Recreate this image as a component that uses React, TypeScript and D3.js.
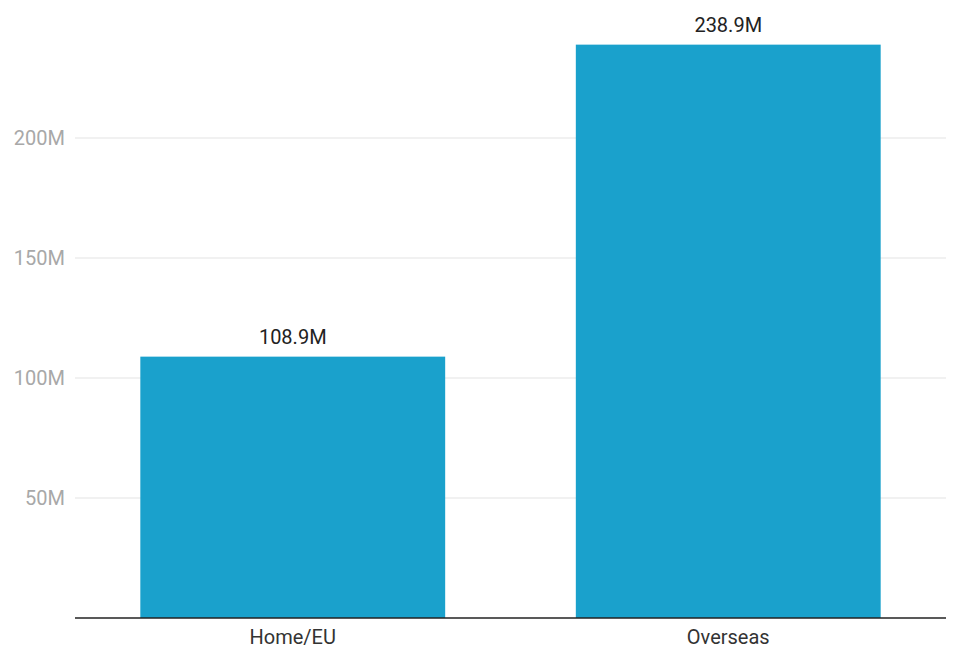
import React from "react";
import * as d3 from "d3";

const categories = ["Home/EU", "Overseas"];
const values = [108.9, 238.9];
const yTicks = [50, 100, 150, 200];

const W = 958, H = 647;
const M = { left: 75, right: 12, top: 45, bottom: 29 };

export default function App() {
  const x = d3.scaleBand<string>().domain(categories).range([M.left, W - M.right]).paddingInner(0.3).paddingOuter(0.15);
  const y = d3.scaleLinear().domain([0, 200]).range([H - M.bottom, H - M.bottom - 480]);
  const font = "Roboto, sans-serif";
  return (
    <svg width={W} height={H} style={{ position: "absolute", left: 0, top: 0, background: "#fff" }}>
      {yTicks.map((t) => (
        <g key={t}>
          <line x1={M.left} x2={W - M.right} y1={y(t)} y2={y(t)} stroke="#e3e3e3" strokeWidth={1} />
          <text x={65} y={y(t)} dy="0.35em" textAnchor="end" fontFamily={font} fontSize={20} fill="#a8a8a8">{t}M</text>
        </g>
      ))}
      {categories.map((c, i) => (
        <g key={c}>
          <rect x={x(c)} y={y(values[i])} width={x.bandwidth()} height={y(0) - y(values[i])} fill="#1aa1cc" />
          <text x={x(c)! + x.bandwidth() / 2} y={y(values[i]) - 13} textAnchor="middle" fontFamily={font} fontSize={20} fill="#222">{values[i].toFixed(1)}M</text>
          <text x={x(c)! + x.bandwidth() / 2} y={y(0) + 26} textAnchor="middle" fontFamily={font} fontSize={20} fill="#333">{c}</text>
        </g>
      ))}
      <line x1={M.left} x2={W - M.right} y1={y(0)} y2={y(0)} stroke="#222" strokeWidth={1.5} />
    </svg>
  );
}
